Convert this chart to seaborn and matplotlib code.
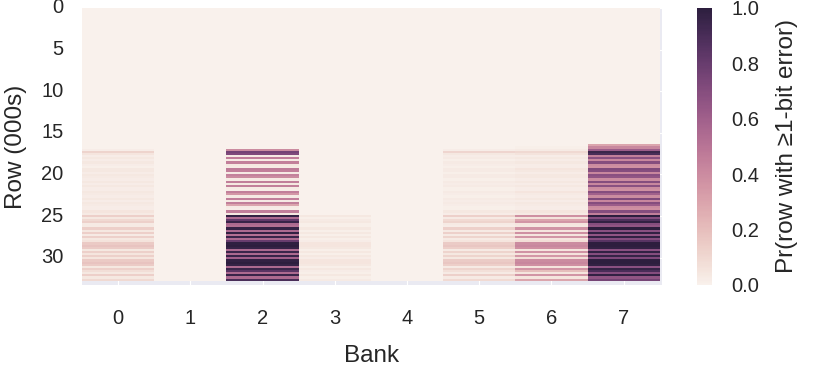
"""Heatmap of per-row error probability by DRAM bank."""

import matplotlib

matplotlib.use("Agg")
import matplotlib.pyplot as plt
import numpy as np
import pandas as pd
import seaborn as sns

# rows are binned in groups of 256; 128 bins cover 32768 rows
ROWS_PER_BIN = 256
N_BINS = 128
FIRST_ACTIVE_BIN = 64

BANKS = [0, 1, 2, 3, 4, 5, 6, 7]
ROW_TICKS = [0, 5, 10, 15, 20, 25, 30]
CBAR_TICKS = [0.0, 0.2, 0.4, 0.6, 0.8, 1.0]

# values for bins 64..127 (rows 16384..32767); earlier bins read as zero
bank0 = [0, 0, 0.02, 0.12, 0.05, 0.02, 0.04, 0.02, 0.04, 0.02, 0.01, 0.04, 0.04,
         0.02, 0.04, 0.03, 0.02, 0.04, 0.02, 0.04, 0.02, 0.02, 0.04, 0.03, 0.02,
         0.04, 0.02, 0.04, 0.03, 0.02, 0.02, 0.05, 0.03,
         0.14, 0.04, 0.10, 0.13, 0.03, 0.03, 0.14, 0.04, 0.14, 0.03, 0.13, 0.04,
         0.06, 0.16, 0.18, 0.15, 0.04, 0.13, 0.05, 0.13, 0.05, 0.16, 0.18, 0.15,
         0.04, 0.13, 0.08, 0.04, 0.14, 0.04, 0.10]
bank1 = [0.0] * 64
bank2 = [0, 0, 0.40, 0.76, 0.72, 0.03, 0.46, 0.03, 0.45, 0.04, 0.03, 0.47, 0.45,
         0.03, 0.44, 0.40, 0.03, 0.46, 0.04, 0.45, 0.03, 0.02, 0.45, 0.35, 0.03,
         0.46, 0.03, 0.45, 0.30, 0.03, 0.02, 0.46, 0.04,
         0.98, 0.55, 0.82, 0.96, 0.55, 0.52, 0.97, 0.55, 0.98, 0.52, 0.96, 0.55,
         0.80, 0.99, 1.00, 0.97, 0.55, 0.95, 0.55, 0.96, 0.60, 0.98, 1.00, 0.97,
         0.55, 0.95, 0.85, 0.55, 0.96, 0.55, 0.90]
bank3 = [0.0] * 33 + [
         0.04, 0.01, 0.03, 0.04, 0.01, 0.01, 0.04, 0.01, 0.04, 0.01, 0.04, 0.01,
         0.02, 0.05, 0.05, 0.04, 0.01, 0.04, 0.01, 0.04, 0.02, 0.05, 0.05, 0.04,
         0.01, 0.04, 0.02, 0.01, 0.04, 0.01, 0.03]
bank4 = [0.0] * 64
bank5 = [0, 0, 0.02, 0.11, 0.04, 0.02, 0.03, 0.01, 0.03, 0.02, 0.01, 0.03, 0.03,
         0.01, 0.03, 0.03, 0.01, 0.03, 0.02, 0.03, 0.01, 0.01, 0.03, 0.02, 0.01,
         0.03, 0.02, 0.03, 0.02, 0.01, 0.01, 0.04, 0.02,
         0.13, 0.03, 0.09, 0.12, 0.03, 0.02, 0.13, 0.03, 0.13, 0.03, 0.12, 0.03,
         0.05, 0.15, 0.17, 0.14, 0.03, 0.12, 0.04, 0.12, 0.04, 0.15, 0.17, 0.14,
         0.03, 0.12, 0.07, 0.03, 0.13, 0.03, 0.09]
bank6 = [0, 0.01, 0.03, 0.10, 0.06, 0.02, 0.04, 0.02, 0.04, 0.02, 0.02, 0.05, 0.04,
         0.02, 0.04, 0.04, 0.02, 0.04, 0.02, 0.04, 0.02, 0.02, 0.05, 0.03, 0.02,
         0.04, 0.02, 0.04, 0.03, 0.02, 0.02, 0.05, 0.03,
         0.38, 0.06, 0.30, 0.36, 0.05, 0.04, 0.37, 0.05, 0.38, 0.05, 0.36, 0.05,
         0.08, 0.40, 0.42, 0.38, 0.05, 0.37, 0.06, 0.35, 0.08, 0.40, 0.42, 0.38,
         0.05, 0.36, 0.20, 0.05, 0.36, 0.05, 0.30]
bank7 = [0.30, 0.42, 0.62, 0.95, 0.90, 0.45, 0.68, 0.42, 0.70, 0.40, 0.38, 0.72,
         0.70, 0.42, 0.68, 0.66, 0.40, 0.70, 0.42, 0.68, 0.40, 0.38, 0.70, 0.60,
         0.40, 0.72, 0.42, 0.70, 0.62, 0.40, 0.38, 0.70, 0.45,
         1.00, 0.70, 0.88, 0.98, 0.70, 0.66, 1.00, 0.68, 0.98, 0.66, 0.98, 0.70,
         0.85, 1.00, 1.00, 0.98, 0.68, 0.98, 0.70, 0.97, 0.72, 1.00, 1.00, 0.98,
         0.68, 0.97, 0.90, 0.70, 0.98, 0.66, 0.75]


def build_frame():
    quiet = [0.0] * FIRST_ACTIVE_BIN
    columns = [bank0, bank1, bank2, bank3, bank4, bank5, bank6, bank7]
    data = {bank: quiet + values for bank, values in zip(BANKS, columns)}
    return pd.DataFrame(data, index=range(N_BINS))


def main():
    sns.set_style("darkgrid")
    plt.rcParams["font.family"] = ["Liberation Sans", "DejaVu Sans"]

    frame = build_frame()
    cmap = sns.cubehelix_palette(light=0.95, as_cmap=True)

    fig = plt.figure(figsize=(8.3, 3.92), dpi=100)
    ax = fig.add_axes([0.0988, 0.273, 0.6988, 0.7066])
    cax = fig.add_axes([0.8398, 0.273, 0.018, 0.7066])

    sns.heatmap(frame, cmap=cmap, vmin=0, vmax=1, ax=ax, cbar_ax=cax,
                cbar_kws={"label": "Pr(row with \u22651-bit error)"})

    ax.set_xlim(0, len(BANKS) + 0.03)
    ax.set_ylim(N_BINS + 2, 0)
    ax.set_yticks([k * 1000 / ROWS_PER_BIN for k in ROW_TICKS])
    ax.set_yticklabels([str(k) for k in ROW_TICKS], rotation=0)
    ax.set_xticklabels([str(b) for b in BANKS], rotation=0)
    ax.tick_params(axis="x", length=0, pad=17, labelsize=14.5)
    ax.tick_params(axis="y", length=0, pad=13.5, labelsize=14.5)
    ax.set_xlabel("Bank", fontsize=17.5, labelpad=12.5)
    ax.set_ylabel("Row (000s)", fontsize=17.5, labelpad=10)

    cbar = ax.collections[0].colorbar
    cbar.set_ticks(CBAR_TICKS)
    cbar.set_ticklabels([f"{t:.1f}" for t in CBAR_TICKS])
    cbar.ax.tick_params(length=0, pad=14, labelsize=14.5)
    cbar.set_label("Pr(row with \u22651-bit error)", fontsize=17.5, labelpad=12)

    fig.savefig("out.png", dpi=100)
    plt.close(fig)


if __name__ == "__main__":
    main()
